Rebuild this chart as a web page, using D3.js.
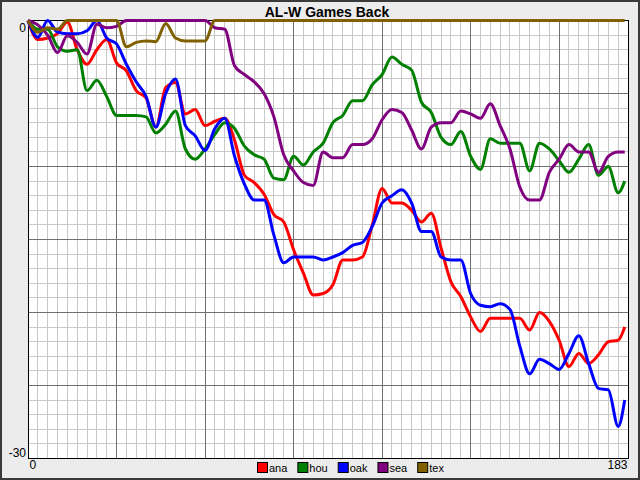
<!DOCTYPE html>
<html>
<head>
<meta charset="utf-8">
<script src="https://cdn.jsdelivr.net/npm/d3@7"></script>
<style>
  body { margin: 0; background: #ececec; }
  svg { display: block; font-family: "Liberation Sans", Arial, sans-serif; }
</style>
</head>
<body>
<div id="chart"></div>
<script>
// dias da temporada (amostrados a cada 3 dias)
const days = [0, 3, 6, 9, 12, 15, 18, 21, 24, 27, 30, 33, 36, 39, 42, 45, 48, 51, 54, 57,
  60, 63, 66, 69, 72, 75, 78, 81, 84, 87, 90, 93, 96, 99, 102, 105, 108, 111, 114, 117,
  120, 123, 126, 129, 132, 135, 138, 141, 144, 147, 150, 153, 156, 159, 162, 165, 168, 171, 174, 177,
  180, 182];

// jogos atrás do líder (positivo = atrás)
const ana = [0, 1.3, 1.2, 0.9, 0.1, 2.0, 3.0, 2.0, 1.3, 2.9, 3.45, 4.8, 5.3, 7.3, 4.6, 4.25, 6.4, 6.1, 7.2, 6.9,
  6.7, 8.2, 10.6, 11.1, 11.9, 13.3, 13.8, 15.7, 17.3, 18.8, 18.7, 18.1, 16.4, 16.4, 16.2, 14.0, 11.5, 12.5, 12.5, 13.0,
  13.8, 13.2, 15.6, 17.9, 18.9, 20.3, 21.3, 20.4, 20.4, 20.4, 20.4, 21.2, 20.0, 20.6, 21.9, 23.7, 22.8, 23.5, 22.9, 22.0,
  21.9, 21.0];
const hou = [0, 0.6, 0.6, 1.8, 2.1, 2.0, 4.8, 4.1, 5.2, 6.5, 6.5, 6.5, 6.6, 7.7, 7.1, 6.2, 8.8, 9.5, 8.8, 7.8,
  7.0, 7.4, 8.6, 9.2, 9.5, 10.8, 10.9, 9.3, 9.9, 9.0, 8.4, 7.0, 6.5, 5.5, 5.5, 4.4, 3.7, 2.5, 3.0, 3.4,
  5.6, 6.3, 8.0, 8.5, 7.6, 9.3, 10.2, 8.1, 8.4, 8.4, 8.4, 10.3, 8.4, 8.8, 9.6, 10.4, 9.5, 8.5, 10.6, 10.0,
  11.8, 11.0];
const oak = [0, 1.15, 0, 0.8, 0.9, 0.9, 0.7, 0, 1.2, 1.6, 3.0, 4.2, 5.2, 7.3, 5.0, 4.0, 7.2, 7.9, 8.9, 7.4,
  6.7, 9.3, 11.2, 12.3, 12.3, 14.7, 16.6, 16.2, 16.2, 16.2, 16.4, 16.2, 15.9, 15.4, 15.2, 14.1, 12.5, 12.0, 11.6, 12.5,
  14.45, 14.45, 16.2, 16.4, 16.4, 18.7, 19.5, 19.6, 19.4, 19.8, 22.3, 24.2, 23.2, 23.5, 23.9, 22.8, 21.6, 23.5, 25.2, 25.3,
  27.8, 26.0];
const sea = [0, 0.3, 1.0, 2.2, 1.05, 1.5, 2.3, 0.25, 0.5, 0.4, 0, 0, 0, 0, 0, 0, 0, 0, 0, 0.5,
  0.6, 3.1, 3.7, 4.2, 5.0, 6.6, 9.2, 10.3, 11.1, 11.3, 9.0, 9.4, 9.4, 8.5, 8.5, 8.1, 6.8, 6.1, 6.3, 7.5,
  8.8, 7.3, 7.0, 7.0, 6.2, 6.4, 6.7, 5.7, 7.2, 8.8, 11.4, 12.3, 12.3, 10.4, 9.5, 8.5, 9.0, 9.0, 10.4, 9.3,
  9.0, 9.0];
const tex = [0, 0.8, 0.5, 0.6, 0, 0, 0, 0, 0, 0, 1.8, 1.5, 1.4, 1.45, 0.2, 1.2, 1.4, 1.4, 1.4, 0,
  0, 0, 0, 0, 0, 0, 0, 0, 0, 0, 0, 0, 0, 0, 0, 0, 0, 0, 0, 0,
  0, 0, 0, 0, 0, 0, 0, 0, 0, 0, 0, 0, 0, 0, 0, 0, 0, 0, 0, 0,
  0, 0];

const teams = ['ana', 'hou', 'oak', 'sea', 'tex'];
const colors = ['#ff0000', '#008000', '#0000ff', '#800080', '#806000'];
const seriesValues = [ana, hou, oak, sea, tex];
const xTicks = [0, 183];
const yTicks = [0, -30];

const width = 640, height = 480;
const margin = { top: 20.5, right: 12, bottom: 21.5, left: 28 };

const svg = d3.select('#chart').append('svg')
  .attr('width', width)
  .attr('height', height);

// moldura da janela
svg.append('rect')
  .attr('x', 1).attr('y', 1)
  .attr('width', width - 2).attr('height', height - 2)
  .attr('fill', '#ececec')
  .attr('stroke', '#3a3a3a')
  .attr('stroke-width', 2);

const x = d3.scaleLinear().domain([0, 183]).range([margin.left, width - margin.right]);
const y = d3.scaleLinear().domain([0, -30]).range([margin.top, height - margin.bottom]);

// fundo branco da área do gráfico
svg.append('rect')
  .attr('x', x(0)).attr('y', y(0))
  .attr('width', x(183) - x(0)).attr('height', y(-30) - y(0))
  .attr('fill', '#fff');

// grade
const grid = svg.append('g').attr('shape-rendering', 'crispEdges');
const vLines = d3.range(0, 184, 3);
const hLines = d3.range(0, -31, -1);

grid.selectAll('.vminor')
  .data(vLines.filter(d => d % 27 !== 0))
  .enter().append('line')
  .attr('x1', d => x(d)).attr('x2', d => x(d))
  .attr('y1', y(0)).attr('y2', y(-30))
  .attr('stroke', '#c8c8c8');

grid.selectAll('.hminor')
  .data(hLines.filter(d => d % 5 !== 0))
  .enter().append('line')
  .attr('x1', x(0)).attr('x2', x(183))
  .attr('y1', d => y(d)).attr('y2', d => y(d))
  .attr('stroke', '#c8c8c8');

grid.selectAll('.vmajor')
  .data(vLines.filter(d => d % 27 === 0 && d > 0))
  .enter().append('line')
  .attr('x1', d => x(d)).attr('x2', d => x(d))
  .attr('y1', y(0)).attr('y2', y(-30))
  .attr('stroke', '#707070');

grid.selectAll('.hmajor')
  .data(hLines.filter(d => d % 5 === 0 && d < 0 && d > -30))
  .enter().append('line')
  .attr('x1', x(0)).attr('x2', x(183))
  .attr('y1', d => y(d)).attr('y2', d => y(d))
  .attr('stroke', '#707070');

// borda
svg.append('rect')
  .attr('x', x(0)).attr('y', y(0))
  .attr('width', x(183) - x(0)).attr('height', y(-30) - y(0))
  .attr('fill', 'none')
  .attr('stroke', '#000')
  .attr('shape-rendering', 'crispEdges');

// linhas das equipes
const line = d3.line()
  .x((d, i) => x(days[i]))
  .y(d => y(-d))
  .curve(d3.curveMonotoneX);

svg.append('g')
  .selectAll('path')
  .data(seriesValues)
  .enter().append('path')
  .attr('d', d => line(d))
  .attr('fill', 'none')
  .attr('stroke', (d, i) => colors[i])
  .attr('stroke-width', 3)
  .attr('stroke-linejoin', 'round');

// eixos
const yAxis = svg.append('g')
  .attr('transform', `translate(${x(0)},0)`)
  .call(d3.axisLeft(y).tickValues(yTicks).tickSize(0).tickPadding(2).tickFormat(d => d === 0 ? '0' : '-' + Math.abs(d)));
yAxis.select('.domain').remove();
yAxis.selectAll('text')
  .attr('font-family', '"Liberation Sans", Arial, sans-serif')
  .attr('font-size', 12)
  .attr('fill', '#000')
  .attr('dy', d => d === 0 ? '0.95em' : '-0.15em');

const xAxis = svg.append('g')
  .attr('transform', `translate(0,${y(-30)})`)
  .call(d3.axisBottom(x).tickValues(xTicks).tickSize(0).tickPadding(2));
xAxis.select('.domain').remove();
xAxis.selectAll('text')
  .attr('font-family', '"Liberation Sans", Arial, sans-serif')
  .attr('font-size', 12)
  .attr('fill', '#000')
  .attr('text-anchor', d => d === 0 ? 'start' : 'end')
  .attr('dx', d => d === 0 ? 1 : -1);

// título
svg.append('text')
  .attr('x', 327)
  .attr('y', 17)
  .attr('text-anchor', 'middle')
  .attr('font-size', 14)
  .attr('font-weight', 'bold')
  .text('AL-W Games Back');

// legenda
const legend = svg.append('g').attr('transform', 'translate(257,462)');
let lx = 0;
teams.forEach((t, i) => {
  const item = legend.append('g').attr('transform', `translate(${lx},0)`);
  item.append('rect')
    .attr('x', 0.5).attr('y', 0.5)
    .attr('width', 10).attr('height', 10)
    .attr('fill', colors[i])
    .attr('stroke', '#000');
  const txt = item.append('text')
    .attr('x', 12)
    .attr('y', 10)
    .attr('font-size', 11)
    .text(t);
  lx += 12 + txt.node().getComputedTextLength() + 10;
});
</script>
</body>
</html>
